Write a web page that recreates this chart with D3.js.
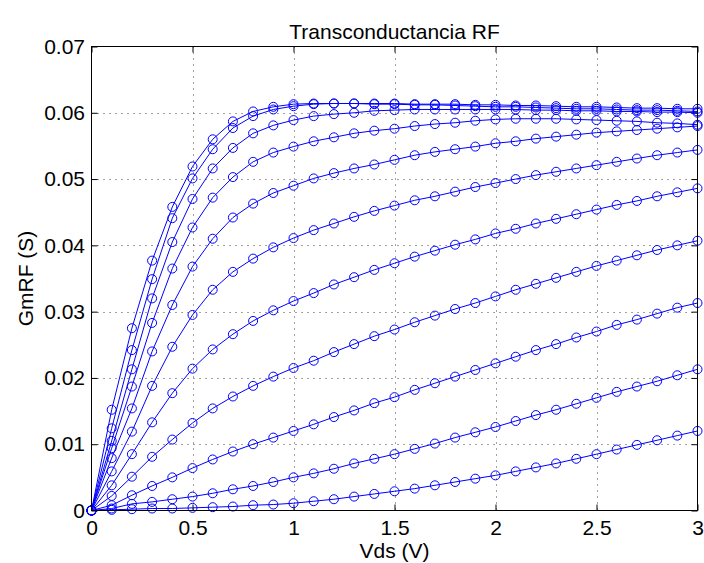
<!DOCTYPE html>
<html>
<head>
<meta charset="utf-8">
<script src="https://cdn.jsdelivr.net/npm/d3@7"></script>
<style>
  html, body { margin: 0; padding: 0; background: #fff; }
  svg { display: block; }
  text { font-family: "Liberation Sans", Arial, Helvetica, sans-serif; fill: #000; }
</style>
</head>
<body>
<svg id="chart" width="704" height="563"></svg>
<script>
// Drain-source voltage sweep (V)
const vds = [0, 0.1, 0.2, 0.3, 0.4, 0.5, 0.6, 0.7, 0.8, 0.9, 1.0,
             1.1, 1.2, 1.3, 1.4, 1.5, 1.6, 1.7, 1.8, 1.9, 2.0,
             2.1, 2.2, 2.3, 2.4, 2.5, 2.6, 2.7, 2.8, 2.9, 3.0];

// RF transconductance (S), one curve per gate bias, highest bias first
const gmA = [0, 0.0152, 0.0275, 0.0377, 0.0458, 0.0519, 0.0560, 0.0587, 0.0602, 0.0609, 0.0613,
             0.0614, 0.0614, 0.0614, 0.0613, 0.0613, 0.0612, 0.0612, 0.0611, 0.0610, 0.0609,
             0.0609, 0.0608, 0.0607, 0.0606, 0.0606, 0.0605, 0.0604, 0.0604, 0.0603, 0.0602];
const gmB = [0, 0.0124, 0.0242, 0.0349, 0.0441, 0.0501, 0.0545, 0.0577, 0.0595, 0.0605, 0.0610,
             0.0613, 0.0614, 0.0614, 0.0614, 0.0614, 0.0613, 0.0613, 0.0613, 0.0612, 0.0612,
             0.0611, 0.0611, 0.0610, 0.0609, 0.0609, 0.0608, 0.0607, 0.0607, 0.0606, 0.0606];
const gmC = [0, 0.0105, 0.0213, 0.0320, 0.0405, 0.0470, 0.0516, 0.0547, 0.0569, 0.0581, 0.0589,
             0.0595, 0.0598, 0.0600, 0.0603, 0.0604, 0.0605, 0.0605, 0.0605, 0.0605, 0.0605,
             0.0605, 0.0604, 0.0604, 0.0603, 0.0603, 0.0602, 0.0602, 0.0601, 0.0601, 0.0600];
const gmD = [0, 0.0094, 0.0187, 0.0283, 0.0365, 0.0427, 0.0472, 0.0503, 0.0526, 0.0540, 0.0549,
             0.0557, 0.0563, 0.0569, 0.0573, 0.0576, 0.0580, 0.0583, 0.0585, 0.0588, 0.0590,
             0.0591, 0.0591, 0.0591, 0.0590, 0.0589, 0.0588, 0.0587, 0.0585, 0.0584, 0.0582];
const gmE = [0, 0.0079, 0.0154, 0.0240, 0.0310, 0.0368, 0.0410, 0.0442, 0.0463, 0.0479, 0.0490,
             0.0501, 0.0509, 0.0516, 0.0522, 0.0529, 0.0536, 0.0541, 0.0545, 0.0549, 0.0554,
             0.0557, 0.0561, 0.0564, 0.0567, 0.0570, 0.0572, 0.0574, 0.0576, 0.0578, 0.0580];
const gmF = [0, 0.0059, 0.0119, 0.0188, 0.0247, 0.0295, 0.0333, 0.0360, 0.0380, 0.0397, 0.0411,
             0.0423, 0.0433, 0.0443, 0.0452, 0.0460, 0.0468, 0.0474, 0.0481, 0.0488, 0.0494,
             0.0500, 0.0506, 0.0511, 0.0516, 0.0521, 0.0526, 0.0531, 0.0536, 0.0540, 0.0544];
const gmG = [0, 0.0038, 0.0085, 0.0133, 0.0177, 0.0214, 0.0243, 0.0266, 0.0286, 0.0302, 0.0316,
             0.0328, 0.0341, 0.0352, 0.0363, 0.0373, 0.0383, 0.0392, 0.0401, 0.0409, 0.0418,
             0.0425, 0.0433, 0.0440, 0.0447, 0.0454, 0.0461, 0.0467, 0.0474, 0.0480, 0.0486];
const gmH = [0, 0.0022, 0.0051, 0.0081, 0.0107, 0.0132, 0.0154, 0.0172, 0.0188, 0.0202, 0.0215,
             0.0226, 0.0239, 0.0251, 0.0263, 0.0273, 0.0284, 0.0294, 0.0304, 0.0313, 0.0323,
             0.0333, 0.0342, 0.0351, 0.0360, 0.0369, 0.0377, 0.0385, 0.0393, 0.0400, 0.0407];
const gmI = [0, 0.0008, 0.0023, 0.0037, 0.0050, 0.0064, 0.0077, 0.0089, 0.0100, 0.0110, 0.0120,
             0.0130, 0.0141, 0.0151, 0.0162, 0.0171, 0.0182, 0.0192, 0.0202, 0.0212, 0.0222,
             0.0232, 0.0242, 0.0251, 0.0261, 0.0270, 0.0280, 0.0288, 0.0297, 0.0306, 0.0313];
const gmJ = [0, 0.0003, 0.0010, 0.0013, 0.0017, 0.0021, 0.0026, 0.0032, 0.0037, 0.0043, 0.0050,
             0.0056, 0.0063, 0.0071, 0.0078, 0.0085, 0.0093, 0.0101, 0.0110, 0.0118, 0.0126,
             0.0135, 0.0144, 0.0152, 0.0161, 0.0170, 0.0179, 0.0187, 0.0195, 0.0204, 0.0213];
const gmK = [0, 0.0001, 0.0002, 0.0003, 0.0003, 0.0004, 0.0005, 0.0006, 0.0008, 0.0009, 0.0011,
             0.0014, 0.0017, 0.0021, 0.0025, 0.0029, 0.0033, 0.0038, 0.0043, 0.0048, 0.0053,
             0.0059, 0.0065, 0.0071, 0.0078, 0.0085, 0.0092, 0.0099, 0.0106, 0.0113, 0.0120];

const curves = [gmA, gmB, gmC, gmD, gmE, gmF, gmG, gmH, gmI, gmJ, gmK];

// Axis ticks
const xTicks = [0, 0.5, 1, 1.5, 2, 2.5, 3];
const yTicks = [0, 0.01, 0.02, 0.03, 0.04, 0.05, 0.06, 0.07];
const xTickLabels = ["0", "0.5", "1", "1.5", "2", "2.5", "3"];
const yTickLabels = ["0", "0.01", "0.02", "0.03", "0.04", "0.05", "0.06", "0.07"];

const titleText = "Transconductancia RF";
const xLabel = "Vds (V)";
const yLabel = "GmRF (S)";

// Layout
const plot = { left: 91.5, right: 697.5, top: 46.5, bottom: 510.5 };
const blue = "#0000ff";
const fontSize = 21;

const svg = d3.select("#chart");

const x = d3.scaleLinear().domain([0, 3]).range([plot.left, plot.right]);
const y = d3.scaleLinear().domain([0, 0.07]).range([plot.bottom, plot.top]);

// Dotted grid
const grid = svg.append("g").attr("stroke", "#444").attr("stroke-width", 1)
  .attr("stroke-dasharray", "1,5").attr("fill", "none");
grid.selectAll("line.gx").data(xTicks.slice(1, -1)).join("line")
  .attr("class", "gx")
  .attr("x1", d => Math.round(x(d)) + 0.5).attr("x2", d => Math.round(x(d)) + 0.5)
  .attr("y1", plot.top).attr("y2", plot.bottom);
grid.selectAll("line.gy").data(yTicks.slice(1, -1)).join("line")
  .attr("class", "gy")
  .attr("y1", d => Math.round(y(d)) + 0.5).attr("y2", d => Math.round(y(d)) + 0.5)
  .attr("x1", plot.left).attr("x2", plot.right);

// Axes with inward ticks on all four sides
const tickLen = 6;
const fmtX = (d, i) => xTickLabels[i];
const fmtY = (d, i) => yTickLabels[i];

const gBottom = svg.append("g").attr("transform", `translate(0,${plot.bottom})`)
  .call(d3.axisBottom(x).tickValues(xTicks).tickFormat(fmtX).tickSize(-tickLen).tickSizeOuter(0).tickPadding(10));
const gLeft = svg.append("g").attr("transform", `translate(${plot.left},0)`)
  .call(d3.axisLeft(y).tickValues(yTicks).tickFormat(fmtY).tickSize(-tickLen).tickSizeOuter(0).tickPadding(6.5));
const gTop = svg.append("g").attr("transform", `translate(0,${plot.top})`)
  .call(d3.axisTop(x).tickValues(xTicks).tickFormat("").tickSize(-tickLen).tickSizeOuter(0));
const gRight = svg.append("g").attr("transform", `translate(${plot.right},0)`)
  .call(d3.axisRight(y).tickValues(yTicks).tickFormat("").tickSize(-tickLen).tickSizeOuter(0));

[gBottom, gLeft, gTop, gRight].forEach(g => {
  g.select(".domain").remove();
  g.selectAll("line").attr("stroke", "#000").attr("stroke-width", 1);
  g.selectAll("text").attr("font-size", fontSize)
    .attr("font-family", '"Liberation Sans", Arial, Helvetica, sans-serif').attr("fill", "#000");
});

// Data curves
const line = d3.line().x((d, i) => x(vds[i])).y(d => y(d));
const gCurves = svg.append("g");
curves.forEach(vals => {
  gCurves.append("path").datum(vals)
    .attr("d", line).attr("fill", "none").attr("stroke", blue).attr("stroke-width", 1);
  gCurves.append("g").selectAll("circle").data(vals).join("circle")
    .attr("cx", (d, i) => x(vds[i])).attr("cy", d => y(d)).attr("r", 4.5)
    .attr("fill", "none").attr("stroke", blue).attr("stroke-width", 1);
});

// Plot box
svg.append("rect")
  .attr("x", plot.left).attr("y", plot.top)
  .attr("width", plot.right - plot.left).attr("height", plot.bottom - plot.top)
  .attr("fill", "none").attr("stroke", "#000").attr("stroke-width", 1);

// Title and axis labels
svg.append("text").attr("x", (plot.left + plot.right) / 2).attr("y", 39)
  .attr("text-anchor", "middle").attr("font-size", fontSize).text(titleText);
svg.append("text").attr("x", (plot.left + plot.right) / 2).attr("y", 558)
  .attr("text-anchor", "middle").attr("font-size", fontSize).text(xLabel);
svg.append("text").attr("transform", `translate(33,${(plot.top + plot.bottom) / 2}) rotate(-90)`)
  .attr("text-anchor", "middle").attr("font-size", fontSize).text(yLabel);
</script>
</body>
</html>
